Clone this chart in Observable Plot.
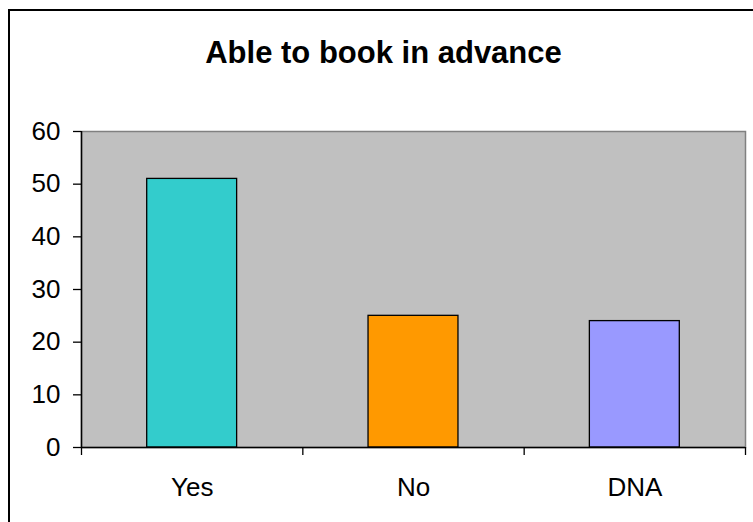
<!DOCTYPE html>
<html>
<head>
<meta charset="utf-8">
<script src="https://cdn.jsdelivr.net/npm/d3@7"></script>
<script src="https://cdn.jsdelivr.net/npm/@observablehq/plot@0.6"></script>
<style>
  html, body { margin: 0; padding: 0; background: white; }
  #wrap { position: relative; width: 753px; height: 522px; overflow: hidden; background: white; }
  #border { position: absolute; left: 8px; top: 9px; width: 800px; height: 600px; border: 2px solid black; box-sizing: border-box; pointer-events: none; }
  #title { position: absolute; left: 0; top: 37px; width: 767px; text-align: center; font: bold 31px "Liberation Sans", Arial, sans-serif; line-height: 31px; color: black; }
  #chart { position: absolute; left: 0; top: 0; }
</style>
</head>
<body>
<div id="wrap">
  <div id="chart"></div>
  <div id="border"></div>
  <div id="title"></div>
</div>
<script>
const titleText = "Able to book in advance";
const categories = ["Yes", "No", "DNA"];
const values = [51, 25, 24];
const colors = ["#33CCCC", "#FF9900", "#9999FF"];
const yTicks = [0, 10, 20, 30, 40, 50, 60];

document.getElementById("title").textContent = titleText;

const data = categories.map((c, i) => ({cat: c, v: values[i], i0: i, i1: i + 1, color: colors[i]}));
const boundaries = d3.range(categories.length + 1);
const centers = categories.map((c, i) => i + 0.5);

const chart = Plot.plot({
  width: 753,
  height: 522,
  marginLeft: 81,
  marginRight: 8,
  marginTop: 131,
  marginBottom: 75,
  style: {fontFamily: "'Liberation Sans', Arial, sans-serif", fontSize: "26px", color: "black", background: "transparent"},
  x: {domain: [0, categories.length], axis: null},
  y: {domain: [0, 60], axis: null},
  marks: [
    Plot.frame({fill: "#C0C0C0", stroke: "#808080", strokeWidth: 1.5}),
    Plot.rectY(data, {x1: "i0", x2: "i1", y: "v", fill: "color", stroke: "black", strokeWidth: 1.3, insetLeft: 65.7, insetRight: 65.7}),
    Plot.ruleY([0], {stroke: "black", strokeWidth: 1.5}),
    Plot.ruleX([0], {stroke: "black", strokeWidth: 1.5}),
    Plot.axisY({ticks: yTicks, tickSize: 8, tickPadding: 13, fontSize: 26, stroke: "black", strokeWidth: 1.3, label: null}),
    Plot.axisX({ticks: boundaries, tickSize: 8, tickFormat: () => "", stroke: "black", strokeWidth: 1.3, label: null}),
    Plot.axisX({ticks: centers, tickSize: 0, tickPadding: 30, fontSize: 26, label: null, tickFormat: d => categories[Math.floor(d)]})
  ]
});
document.getElementById("chart").appendChild(chart);
</script>
</body>
</html>
